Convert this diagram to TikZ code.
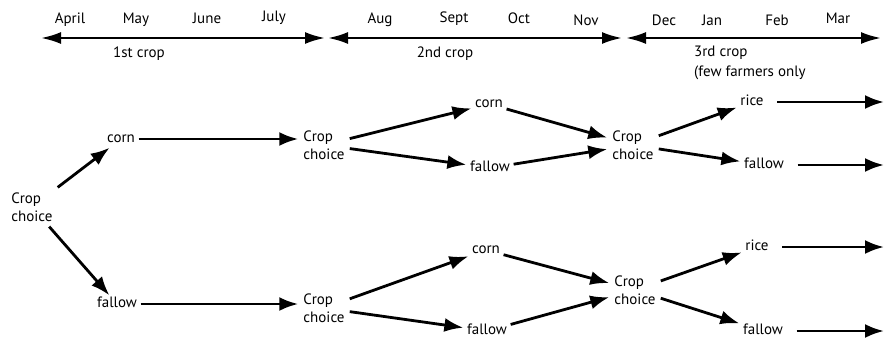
\documentclass[tikz,border=0pt]{standalone}
\usepackage{fontspec}
\setmainfont{PT Sans}
\usetikzlibrary{arrows.meta}

\begin{document}
\begin{tikzpicture}[x=1pt,y=-1pt,font=\fontsize{15}{18}\selectfont]
  \tikzstyle{month} = [inner sep=0pt]
  \tikzstyle{choice} = [align=left, inner sep=5pt]
  \tikzstyle{crop} = [inner sep=3.5pt, text height=8pt, text depth=2pt]
  \tikzstyle{seasonEdge} = [black, line width=2.4pt, {Latex[length=20pt,width=12pt]}-{Latex[length=20pt,width=12pt]}];
  \tikzstyle{branchEdge} = [black, line width=2.8pt, -{Latex[length=19pt,width=14pt]}];
  \tikzstyle{outEdge} = [branchEdge, shorten <=10pt];

  \useasboundingbox (0,0) rectangle (885,340);

  % months
  \node[month] (apr) at (70,20) {April};
  \node[month] (may) at (136,20) {May};
  \node[month] (jun) at (207,18) {June};
  \node[month] (jul) at (274,18) {July};
  \node[month] (aug) at (380,20) {Aug};
  \node[month] (sep) at (454,19) {Sept};
  \node[month] (oct) at (519,18) {Oct};
  \node[month] (nov) at (586,20) {Nov};
  \node[month] (dec) at (664,20) {Dec};
  \node[month] (jan) at (712,20) {Jan};
  \node[month] (feb) at (777,20) {Feb};
  \node[month] (mar) at (838,18) {Mar};

  % seasons
  \coordinate (s1) at (41,38);
  \coordinate (s2) at (325,38);
  \coordinate (s3) at (328,38);
  \coordinate (s4) at (622,38);
  \coordinate (s5) at (626,38);
  \coordinate (s6) at (881,38);
  \path (s1) edge[seasonEdge] (s2)
        (s3) edge[seasonEdge] (s4)
        (s5) edge[seasonEdge] (s6);
  \node[month] (c1) at (139,54) {1st crop};
  \node[month] (c2) at (445,54) {2nd crop};
  \node[month, anchor=north west, align=left] (c3) at (694,46) {3rd crop\\[2pt](few farmers only};

  % tree
  \node[choice] (A)  at (32,207)  {Crop\\choice};
  \node[crop]   (B1) at (121,139) {corn};
  \node[crop]   (B2) at (117,304) {fallow};
  \node[choice] (C1) at (324,145) {Crop\\choice};
  \node[choice] (C2) at (324,308) {Crop\\choice};
  \node[crop]   (D1) at (489,104) {corn};
  \node[crop]   (D2) at (490,168) {fallow};
  \node[crop]   (D3) at (486,250) {corn};
  \node[crop]   (D4) at (487,331) {fallow};
  \node[choice] (E1) at (633,145) {Crop\\choice};
  \node[choice] (E2) at (635,290) {Crop\\choice};
  \node[crop]   (F1) at (752,102) {rice};
  \node[crop]   (F2) at (764,165) {fallow};
  \node[crop]   (F3) at (757,247) {rice};
  \node[crop]   (F4) at (763,331) {fallow};
  \coordinate (G1) at (884,102);
  \coordinate (G2) at (884,165);
  \coordinate (G3) at (884,247);
  \coordinate (G4) at (884,331);

  \path (A)  edge[branchEdge] (B1)
        (A)  edge[branchEdge] (B2)
        (B1) edge[branchEdge] (B1 -| C1.west)
        (B2) edge[branchEdge] (B2 -| C2.west)
        (C1) edge[branchEdge] (D1)
        (C1) edge[branchEdge] (D2)
        (C2) edge[branchEdge] (D3)
        (C2) edge[branchEdge] (D4)
        (D1) edge[branchEdge] (E1)
        (D2) edge[branchEdge] (E1)
        (D3) edge[branchEdge] (E2)
        (D4) edge[branchEdge] (E2)
        (E1) edge[branchEdge] (F1)
        (E1) edge[branchEdge] (F2)
        (E2) edge[branchEdge] (F3)
        (E2) edge[branchEdge] (F4)
        (F1) edge[outEdge] (G1)
        (F2) edge[outEdge] (G2)
        (F3) edge[outEdge] (G3)
        (F4) edge[outEdge] (G4);
\end{tikzpicture}
\end{document}
